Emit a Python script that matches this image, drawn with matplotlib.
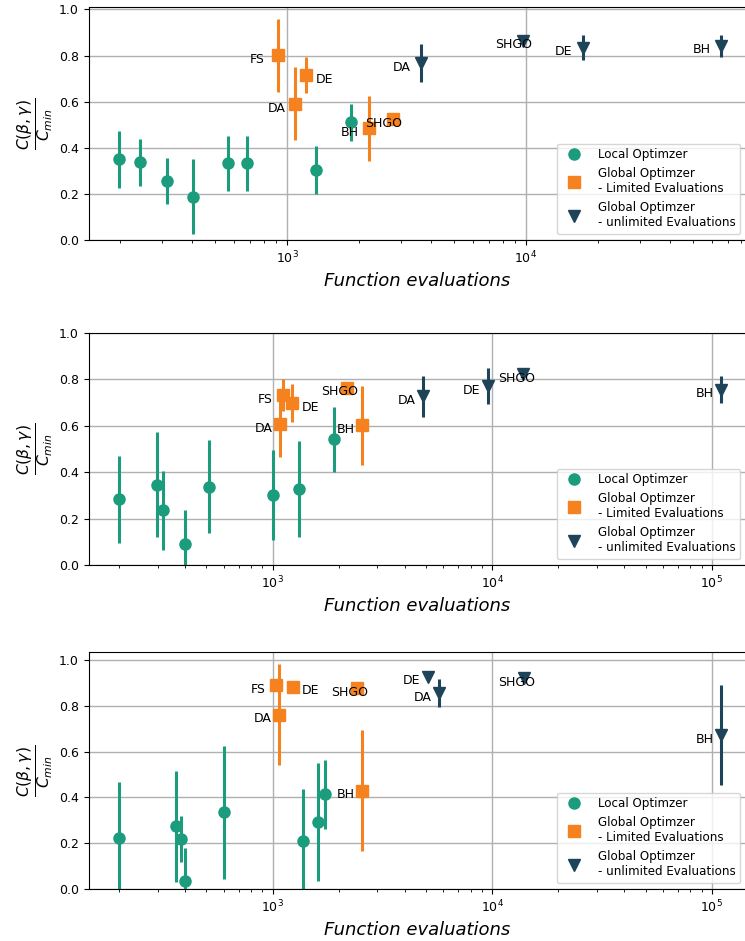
import matplotlib
matplotlib.use("Agg")
import matplotlib.pyplot as plt

# colours
c_local = '#1b9c7c'
c_lim = '#f5821f'
c_unl = '#1e4459'

legend_labels = ["Local Optimzer",
                 "Global Optimzer\n- Limited Evaluations",
                 "Global Optimzer\n- unlimited Evaluations"]

# ---- panel 1 ----
local1_x = [198, 242, 314, 402, 563, 676, 1319, 1845]
local1_y = [0.350, 0.337, 0.256, 0.188, 0.332, 0.332, 0.303, 0.511]
local1_err = [0.124, 0.103, 0.100, 0.163, 0.121, 0.118, 0.105, 0.080]
lim1_names = ["FS", "DE", "DA", "BH", "SHGO"]
lim1_x = [911, 1201, 1080, 2193, 2764]
lim1_y = [0.801, 0.714, 0.590, 0.485, 0.523]
lim1_err = [0.158, 0.078, 0.158, 0.141, 0.010]
unl1_names = ["DA", "SHGO", "DE", "BH"]
unl1_x = [3622, 9680, 17280, 65420]
unl1_y = [0.766, 0.865, 0.834, 0.842]
unl1_err = [0.082, 0.005, 0.054, 0.048]

# ---- panel 2 ----
local2_x = [200, 299, 317, 401, 515, 1008, 1324, 1910]
local2_y = [0.283, 0.346, 0.236, 0.092, 0.338, 0.300, 0.328, 0.542]
local2_err = [0.187, 0.227, 0.171, 0.145, 0.200, 0.194, 0.207, 0.140]
lim2_names = ["FS", "DE", "DA", "SHGO", "BH"]
lim2_x = [1116, 1231, 1082, 2178, 2548]
lim2_y = [0.733, 0.698, 0.608, 0.764, 0.602]
lim2_err = [0.069, 0.083, 0.144, 0.015, 0.170]
unl2_names = ["DA", "DE", "SHGO", "BH"]
unl2_x = [4830, 9610, 13870, 109900]
unl2_y = [0.727, 0.772, 0.822, 0.756]
unl2_err = [0.088, 0.078, 0.010, 0.059]

# ---- panel 3 ----
local3_x = [200, 362, 383, 401, 601, 1381, 1606, 1741]
local3_y = [0.221, 0.273, 0.217, 0.036, 0.335, 0.208, 0.293, 0.413]
local3_err = [0.247, 0.243, 0.100, 0.143, 0.290, 0.230, 0.257, 0.152]
lim3_names = ["FS", "DA", "DE", "SHGO", "BH"]
lim3_x = [1034, 1071, 1236, 2416, 2556]
lim3_y = [0.889, 0.761, 0.883, 0.876, 0.429]
lim3_err = [0.020, 0.220, 0.010, 0.010, 0.265]
unl3_names = ["DE", "DA", "SHGO", "BH"]
unl3_x = [5100, 5720, 13960, 109900]
unl3_y = [0.928, 0.856, 0.921, 0.672]
unl3_err = [0.010, 0.062, 0.010, 0.217]

panels = [
    (local1_x, local1_y, local1_err, lim1_names, lim1_x, lim1_y, lim1_err,
     unl1_names, unl1_x, unl1_y, unl1_err, (147.2, 83560), (0, 1.009)),
    (local2_x, local2_y, local2_err, lim2_names, lim2_x, lim2_y, lim2_err,
     unl2_names, unl2_x, unl2_y, unl2_err, (145.5, 143200), (0, 1.0)),
    (local3_x, local3_y, local3_err, lim3_names, lim3_x, lim3_y, lim3_err,
     unl3_names, unl3_x, unl3_y, unl3_err, (145.5, 143200), (0, 1.035)),
]

# axes boxes in pixels (left, top, right, bottom)
W, H = 745, 941
boxes = [(88.7, 7.3, 746, 240), (88.7, 333, 746, 565), (88.7, 652, 746, 889)]

fig = plt.figure(figsize=(W / 100, H / 100), dpi=100)

for (lx, ly, le, ln, gx, gy, ge, un, ux, uy, ue, xlim, ylim), b in zip(panels, boxes):
    l, t, r, bt = b
    ax = fig.add_axes([l / W, 1 - bt / H, (r - l) / W, (bt - t) / H])

    ax.errorbar(lx, ly, yerr=le, fmt='none', ecolor=c_local, elinewidth=2.2, zorder=2)
    ax.plot(lx, ly, 'o', color=c_local, ms=8, label=legend_labels[0], zorder=3)
    ax.errorbar(gx, gy, yerr=ge, fmt='none', ecolor=c_lim, elinewidth=2.2, zorder=2)
    ax.plot(gx, gy, 's', color=c_lim, ms=8, label=legend_labels[1], zorder=3)
    ax.errorbar(ux, uy, yerr=ue, fmt='none', ecolor=c_unl, elinewidth=2.2, zorder=2)
    ax.plot(ux, uy, 'v', color=c_unl, ms=8, label=legend_labels[2], zorder=3)

    for name, x, y in zip(ln, gx, gy):
        if name == "DE":
            ax.text(x * 1.1, y - 0.018, name, ha='left', va='center', fontsize=9, zorder=4)
        else:
            ax.text(x * 0.766, y - 0.018, name, ha='left', va='center', fontsize=9, zorder=4)
    for name, x, y in zip(un, ux, uy):
        ax.text(x * 0.766, y - 0.018, name, ha='left', va='center', fontsize=9, zorder=4)

    ax.set_xscale('log')
    ax.set_xlim(*xlim)
    ax.set_ylim(*ylim)
    ax.set_yticks([0, 0.2, 0.4, 0.6, 0.8, 1.0])
    ax.tick_params(labelsize=9)
    ax.grid(True, which='major', color='#b0b0b0', linewidth=1.0)
    ax.set_axisbelow(True)
    ax.set_xlabel('Function evaluations', fontsize=13, style='italic')
    ax.set_ylabel(r'$\frac{C(\beta,\gamma)}{C_{min}}$', fontsize=16, labelpad=2)
    ax.legend(loc='lower right', fontsize=8.6, handletextpad=1.0)

fig.savefig('out.png', dpi=100)
